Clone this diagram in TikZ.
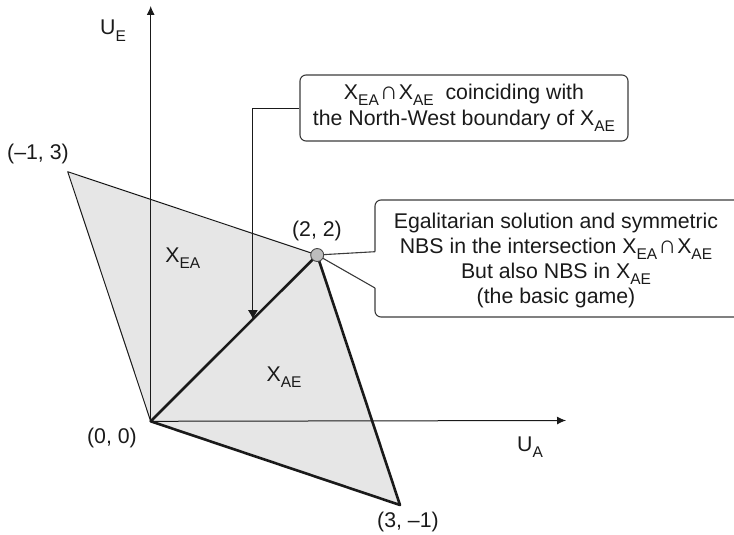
\documentclass[tikz,border=0pt]{standalone}
\usepackage{fontspec}
\setmainfont{Liberation Sans}
\usetikzlibrary{arrows.meta,calc}
\definecolor{regfill}{HTML}{E6E6E6}
\definecolor{dotfill}{HTML}{BDBDBD}
\definecolor{lin}{HTML}{1A1A1A}
\definecolor{txt}{HTML}{1A1A1A}
\newcommand{\sbs}[1]{\raisebox{-6pt}{\fontsize{15.5}{15.5}\selectfont #1}}
\newcommand{\capsym}{\hspace{1pt}{\fontsize{25}{25}\selectfont ∩}\hspace{1pt}}
\begin{document}
\begin{tikzpicture}[x=1pt,y=-1pt,
  lbl/.style={font=\fontsize{21.3}{25}\selectfont, text=txt, inner sep=0pt},
  axisline/.style={line width=1pt, draw=lin, -{Latex[length=9pt,width=8pt]}},
  thinedge/.style={line width=1pt, draw=lin, line join=round},
  thickedge/.style={line width=2.6pt, draw=lin, line join=round},
  boxline/.style={line width=1.1pt, draw=lin!85},
  pointer/.style={line width=1pt, draw=lin, -{Latex[length=9pt,width=10pt]}}]
\useasboundingbox (0,0) rectangle (734,535);
\clip (0,0) rectangle (734,535);
% points
\coordinate (O) at (150.7,421.3);
\coordinate (P1) at (67.7,171.7);
\coordinate (P2) at (317.2,255);
\coordinate (P3) at (400,505);
\coordinate (Etop) at (150.7,6);
\coordinate (Aend) at (566,420.5);
% region
\fill[regfill] (O) -- (P1) -- (P2) -- (P3) -- cycle;
% axes
\draw[axisline] (O) -- (Etop);
\draw[axisline] (O) -- (Aend);
% edges
\draw[thinedge] (O) -- (P1) -- (P2);
\draw[thickedge] (O) -- (P2) -- (P3) -- cycle;
% labels
\node[lbl, anchor=base west] (lUE) at (100,35) {U\sbs{E}};
\node[lbl, anchor=base west] (lUA) at (517,451) {U\sbs{A}};
\node[lbl] (lP1) at (38,154) {(–1, 3)};
\node[lbl] (lO) at (112,438) {(0, 0)};
\node[lbl] (lP2) at (317,231) {(2, 2)};
\node[lbl] (lP3) at (408,521.5) {(3, –1)};
\node[lbl, anchor=base east] (lXEA) at (200.5,262) {X\sbs{EA}};
\node[lbl, anchor=base west] (lXAE) at (266.5,381.7) {X\sbs{AE}};
% box 1
\node[lbl, boxline, rounded corners=6pt, minimum width=328pt, minimum height=66pt, align=center,
      font=\fontsize{21.3}{26.5}\selectfont] (box1) at (464,108)
  {X\sbs{EA}\capsym X\sbs{AE}\ \ coinciding with\\the North-West boundary of X\sbs{AE}};
\coordinate (tipA) at ($(O)!0.614!(P2)$);
\draw[pointer] (box1.west) -| (tipA);
% box 2
\node[lbl, align=center] (box2) at (556,260)
  {Egalitarian solution and symmetric\\NBS in the intersection X\sbs{EA}\capsym X\sbs{AE}\\But also NBS in X\sbs{AE}\\(the basic game)};
\coordinate (c2a) at (375,251.7);
\coordinate (c2b) at (375,288);
\draw[boxline, rounded corners=6pt] (c2a) -- (375,200) -- (742,200) -- (742,317) -- (375,317) -- (c2b);
\draw[boxline, line join=miter] (c2b) -- (P2) -- (c2a);
% dot
\node[circle, fill=dotfill, draw=lin!80, line width=0.9pt, minimum size=13pt, inner sep=0pt] (dot) at (P2) {};
\end{tikzpicture}
\end{document}
